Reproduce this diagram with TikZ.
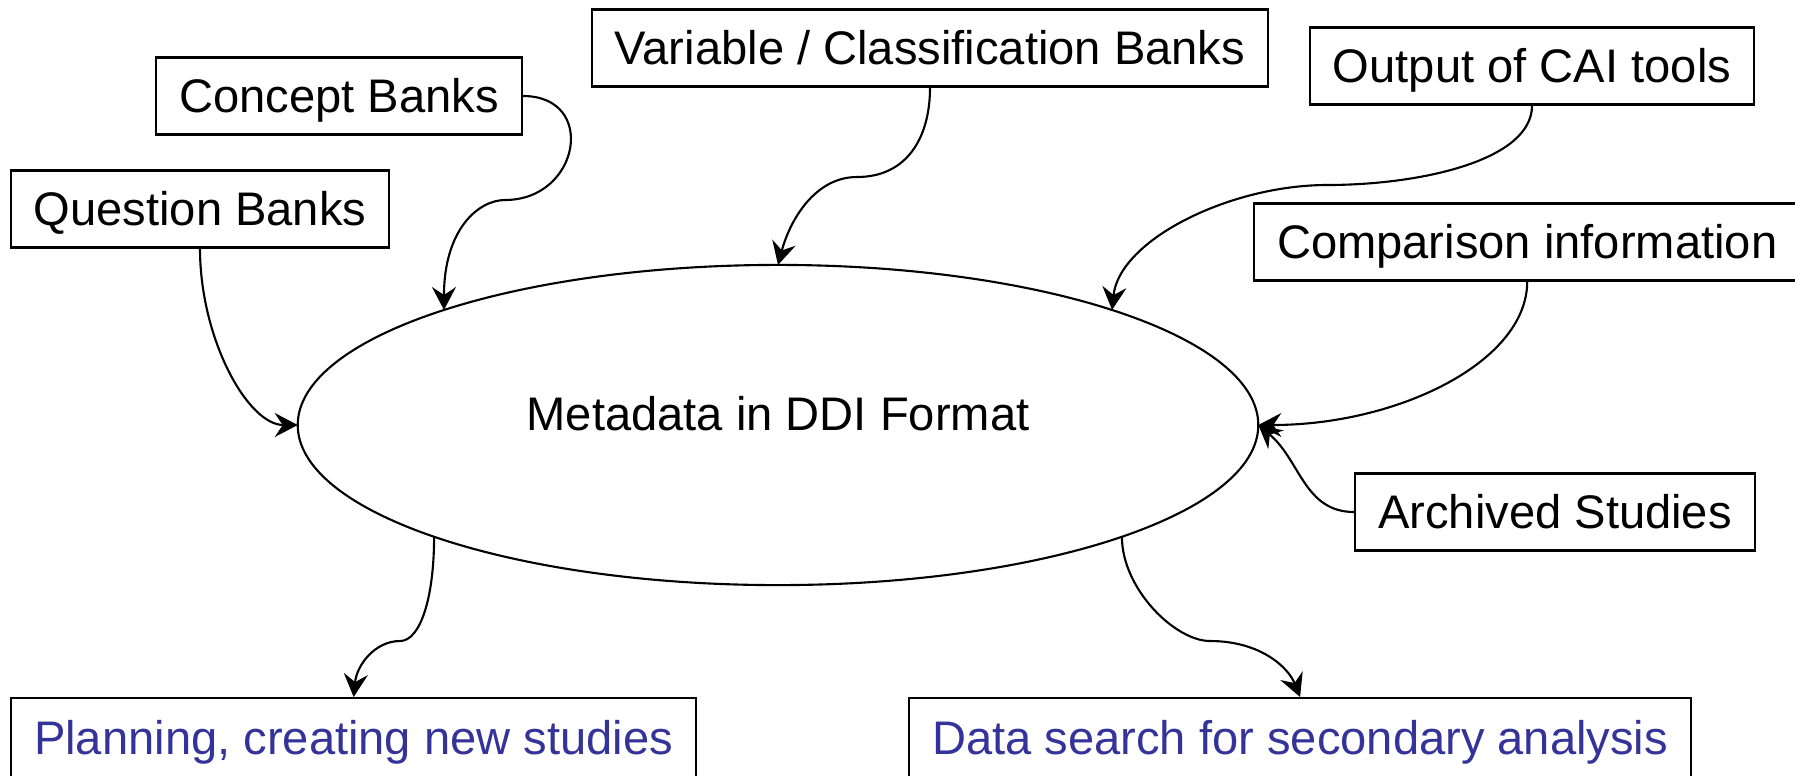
\documentclass[tikz,border=0pt]{standalone}
\usepackage{fontspec}
\setmainfont{Liberation Sans}
\usetikzlibrary{positioning, shapes.geometric, arrows.meta}
\definecolor{studyblue}{RGB}{51,51,153}
\tikzset{
every picture/.style={line width=0.6pt},
bank/.style={draw, rectangle, inner xsep=0.23cm, inner ysep=0pt, minimum height=0.77cm,
  text height=0.98em, text depth=0.04em, font=\fontsize{13.4}{16}\selectfont},
use/.style={bank, text=studyblue, minimum height=0.8cm},
flow/.style={-{Stealth[length=0.23cm, width=0.24cm, inset=0.08cm]}},
}

\begin{document}
\begin{tikzpicture}[x=0.01cm, y=-0.01cm]
    \useasboundingbox (0,0) rectangle (1795,775);

    %centre
    \node[draw, ellipse, minimum width=9.6cm, minimum height=3.2cm, inner sep=0pt, outer sep=0pt,
          text height=0.74em, text depth=0.44em,
          font=\fontsize{13.4}{16}\selectfont] (ddi) at (778,425) {Metadata in DDI Format};

    %sources
    \node[bank] (concept)  at (339,96)  {Concept Banks};
    \node[bank] (variable) at (930,48)  {Variable / Classification Banks};
    \node[bank] (cai)      at (1532,66) {Output of CAI tools};
    \node[bank] (question) at (200,209) {Question Banks};
    \node[bank, anchor=west] (compare) at (1253,242) {Comparison information};
    \node[bank] (archive)  at (1555,512) {Archived Studies};

    %uses
    \node[use, anchor=north west] (plan)   at (10,697)  {Planning, creating new studies};
    \node[use, anchor=north west] (search) at (908,697) {Data search for secondary analysis};

    %bends
    \coordinate (b1) at (505,200);
    \coordinate (b2) at (857,177);
    \coordinate (b3) at (1327,185);
    \coordinate (b4) at (400,641);
    \coordinate (b5) at (1210,641);

    %into the centre
    \draw[flow] (concept.east) .. controls +(75,0) and +(75,0) .. (b1)
                .. controls +(-27,0) and +(0,-80) .. (ddi.161);
    \draw[flow] (variable.south) .. controls +(0,50) and +(50,0) .. (b2)
                .. controls +(-42,0) and +(12,-45) .. (ddi.north);
    \draw[flow] (cai.south) .. controls +(0,55) and +(93,0) .. (b3)
                .. controls +(-97,0) and +(7,-70) .. (ddi.19);
    \draw[flow] (question.south) .. controls +(0,90) and +(-50,0) .. (ddi.west);
    \draw[flow] (compare.south) .. controls +(0,80) and +(140,0) .. (ddi.east);
    \draw[flow] (archive.west) .. controls +(-50,0) and +(42,35) .. (ddi.east);

    %out of the centre
    \draw[flow] (ddi.198) .. controls +(0,62) and +(20,0) .. (b4)
                .. controls +(-25,0) and +(3,-32) .. (plan.north);
    \draw[flow] (ddi.-18) .. controls +(0,52) and +(-35,0) .. (b5)
                .. controls +(50,0) and +(-12,-30) .. (search.north);
\end{tikzpicture}
\end{document}
